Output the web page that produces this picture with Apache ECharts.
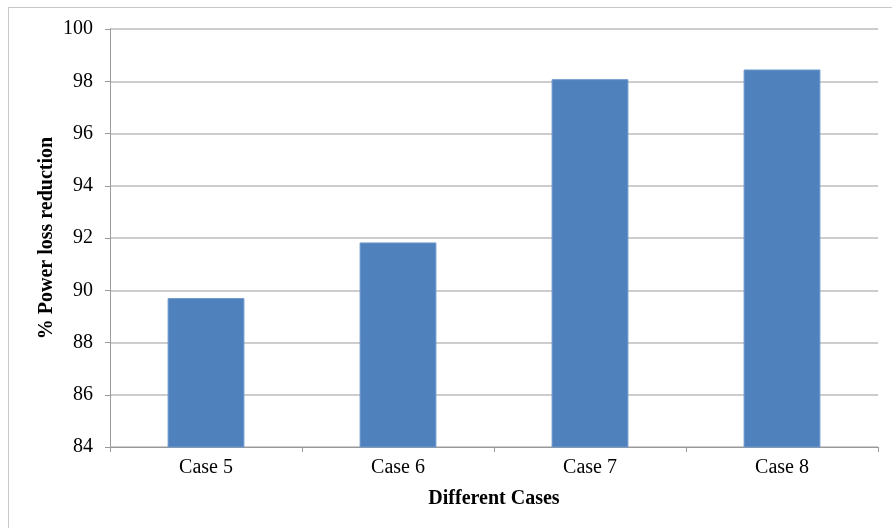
<!DOCTYPE html>
<html>
<head>
<meta charset="utf-8">
<script src="https://cdn.jsdelivr.net/npm/echarts@6/dist/echarts.min.js"></script>
<style>
html,body{margin:0;padding:0;background:#fff;}
#frame{position:absolute;left:8px;top:7px;width:900px;height:540px;border:1px solid #c8c8c8;}
#chart{position:absolute;left:0;top:0;width:892px;height:528px;}
</style>
</head>
<body>
<div id="frame"></div>
<div id="chart"></div>
<script>
// categories and values
var cases = ['Case 5', 'Case 6', 'Case 7', 'Case 8'];
var reduction = [89.7, 91.83, 98.08, 98.45];
var yMin = 84, yMax = 100, yStep = 2;

var chart = echarts.init(document.getElementById('chart'));
var font = '"Liberation Serif", "Times New Roman", serif';

var option = {
	animation: false,
	grid: {left: 110, right: 14, top: 29, bottom: 81},
	xAxis: {
		type: 'category',
		data: cases,
		name: 'Different Cases',
		nameLocation: 'middle',
		nameGap: 42,
		nameMoveOverlap: false,
		nameTextStyle: {fontFamily: font, fontSize: 20, fontWeight: 'bold', color: '#000'},
		axisLine: {lineStyle: {color: '#999', width: 1}},
		axisTick: {show: true, length: 5, lineStyle: {color: '#999'}},
		axisLabel: {fontFamily: font, fontSize: 20, color: '#000', margin: 11}
	},
	yAxis: {
		type: 'value',
		min: yMin,
		max: yMax,
		interval: yStep,
		name: '% Power loss reduction',
		nameLocation: 'middle',
		nameGap: 53,
		nameMoveOverlap: false,
		nameRotate: 90,
		nameTextStyle: {fontFamily: font, fontSize: 20, fontWeight: 'bold', color: '#000'},
		axisLine: {show: true, lineStyle: {color: '#999', width: 1}},
		axisTick: {show: true, length: 5, lineStyle: {color: '#999'}},
		axisLabel: {fontFamily: font, fontSize: 20, color: '#000', margin: 17},
		splitLine: {lineStyle: {color: '#bcbcbc', width: 1.5}}
	},
	series: [{
		type: 'bar',
		data: reduction,
		barWidth: '40%',
		itemStyle: {color: '#4f81bd', borderColor: '#6f98cc', borderWidth: 1}
	}]
};
chart.setOption(option);
</script>
</body>
</html>
